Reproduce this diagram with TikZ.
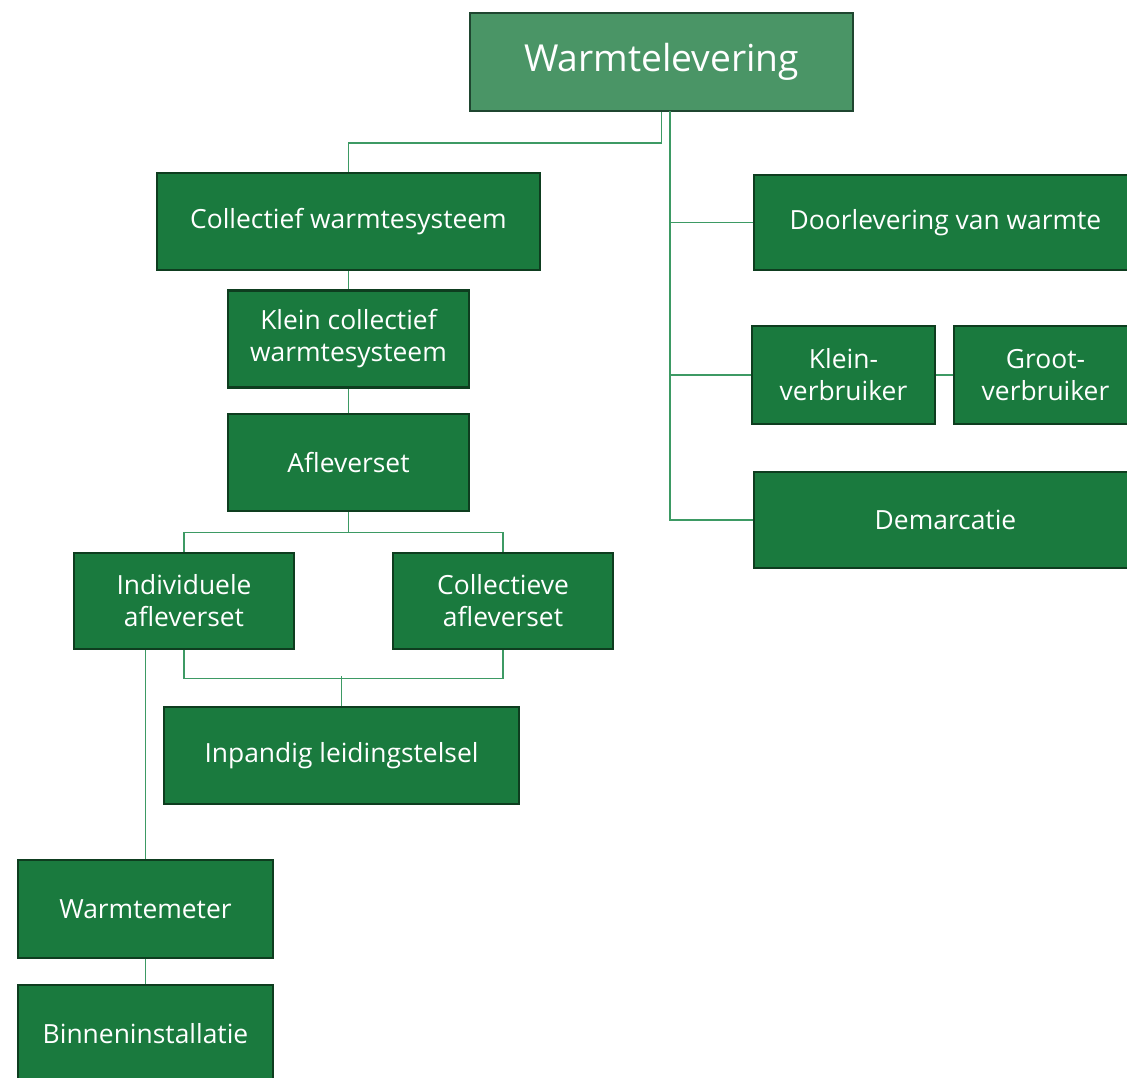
\documentclass[tikz,border=0pt]{standalone}
\usepackage{fontspec}
\setmainfont{Open Sans}
\usepackage{tikz}
\definecolor{boxgreen}{HTML}{1A7A3E}
\definecolor{topgreen}{HTML}{4A9566}
\definecolor{boxedge}{HTML}{0E3D1F}
\definecolor{topedge}{HTML}{1F4630}
\definecolor{linkgreen}{HTML}{3D9A64}

\begin{document}
\begin{tikzpicture}[x=0.5pt,y=-0.5pt]
\tikzstyle{box}=[rectangle,draw=boxedge,fill=boxgreen,line width=1.3pt,text=white,align=center,inner sep=0pt,font=\fontsize{13.2}{16}\selectfont]
\tikzstyle{link}=[draw=linkgreen,line width=0.65pt]
\useasboundingbox (0,0) rectangle (1127,1077);
\clip (0,0) rectangle (1127,1077);
\node[box,fill=topgreen,draw=topedge,minimum width=191.5pt,minimum height=49pt,font=\fontsize{18.6}{22}\selectfont] (wl) at (661.5,62) {Warmtelevering};
\node[box,minimum width=191.5pt,minimum height=48.5pt] (cws) at (348.5,221.5) {Collectief warmtesysteem};
\node[box,minimum width=120.5pt,minimum height=48.5pt] (kcws) at (348.5,339) {Klein collectief\\warmtesysteem};
\node[box,minimum width=120.5pt,minimum height=48.5pt] (afl) at (348.5,462.5) {Afleverset};
\node[box,minimum width=110pt,minimum height=48pt] (ind) at (184,601) {Individuele\\afleverset};
\node[box,minimum width=110pt,minimum height=48pt] (col) at (503,601) {Collectieve\\afleverset};
\node[box,minimum width=177.5pt,minimum height=48.5pt] (inp) at (341.5,755.5) {Inpandig leidingstelsel};
\node[box,minimum width=127.5pt,minimum height=49pt] (wm) at (145.5,909) {Warmtemeter};
\node[box,minimum width=127.5pt,minimum height=49pt] (bin) at (145.5,1034) {Binneninstallatie};
\node[box,minimum width=191.5pt,minimum height=47.5pt] (door) at (945.5,222.5) {Doorlevering van warmte};
\node[box,minimum width=91.5pt,minimum height=49pt] (klein) at (843.5,375) {Klein-\\verbruiker};
\node[box,minimum width=91.5pt,minimum height=49pt] (groot) at (1045.5,375) {Groot-\\verbruiker};
\node[box,minimum width=191.5pt,minimum height=48pt] (dem) at (945.5,520) {Demarcatie};
\coordinate (split) at (661.5,143);
\coordinate (trunk) at (670,111);
% connectors
\draw[link] (wl.south) -- (split) -| (cws.north);
\draw[link] (trunk) |- (door.west);
\draw[link] (trunk) |- (klein.west);
\draw[link] (trunk) |- (dem.west);
\draw[link] (klein.east) -- (groot.west);
\draw[link] (cws.south) -- (kcws.north);
\draw[link] (kcws.south) -- (afl.north);
\draw[link] (afl.south) -- ++(0,20) -| (ind.north);
\draw[link] (afl.south) -- ++(0,20) -| (col.north);
\draw[link] (ind.south) -- ++(0,28) -| (col.south);
\draw[link] (inp.north) -- ++(0,-30);
\draw[link] (wm.north) -- (wm.north |- ind.south);
\draw[link] (wm.south) -- (bin.north);
\end{tikzpicture}
\end{document}
